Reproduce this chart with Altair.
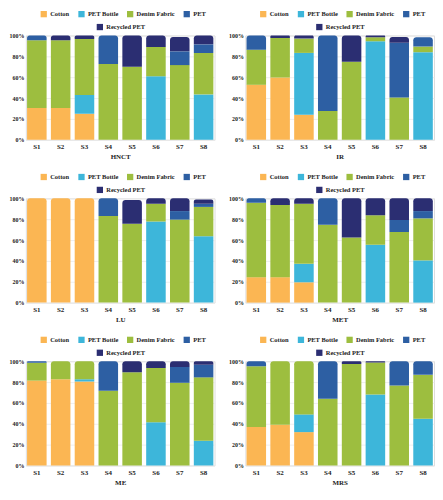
import altair as alt
import pandas as pd

SAMPLES = ["S1", "S2", "S3", "S4", "S5", "S6", "S7", "S8"]
MATERIALS = ["Cotton", "PET Bottle", "Denim Fabric", "PET", "Recycled PET"]
COLORS = ["#FBB653", "#3DB6DA", "#9DBE3F", "#2D5FA3", "#2B2E72"]
PANELS = ["HNCT", "IR", "LU", "MET", "ME", "MRS"]

# values in percent, per material, S1..S8
HNCT = {
    "Cotton":       [30.5, 30.5, 25.0, 0, 0, 0, 0, 0],
    "PET Bottle":   [0, 0, 18.0, 0, 0, 61.0, 0, 43.5],
    "Denim Fabric": [65.0, 65.0, 53.6, 72.6, 70.0, 28.0, 71.6, 39.7],
    "PET":          [4.5, 0, 0, 27.4, 0, 0, 13.2, 8.3],
    "Recycled PET": [0, 4.5, 3.4, 0, 30.0, 11.0, 13.7, 8.5],
}
IR = {
    "Cotton":       [52.7, 59.7, 24.0, 0, 0, 0, 0, 0],
    "PET Bottle":   [0, 0, 59.3, 0, 0, 94.5, 0, 84.0],
    "Denim Fabric": [33.7, 37.9, 13.7, 27.6, 74.8, 3.7, 40.6, 5.4],
    "PET":          [13.6, 0, 0, 72.4, 0, 0, 52.4, 9.0],
    "Recycled PET": [0, 2.4, 3.0, 0, 25.2, 1.8, 5.5, 0],
}
LU = {
    "Cotton":       [100.0, 100.0, 100.0, 0, 0, 0, 0, 0],
    "PET Bottle":   [0, 0, 0, 0, 0, 77.7, 0, 63.7],
    "Denim Fabric": [0, 0, 0, 83.0, 75.6, 17.1, 79.6, 28.1],
    "PET":          [0, 0, 0, 17.0, 0, 0, 8.2, 3.0],
    "Recycled PET": [0, 0, 0, 0, 22.9, 5.2, 12.2, 4.0],
}
MET = {
    "Cotton":       [24.4, 24.4, 19.5, 0, 0, 0, 0, 0],
    "PET Bottle":   [0, 0, 17.7, 0, 0, 55.5, 0, 40.5],
    "Denim Fabric": [71.3, 69.2, 57.6, 74.7, 62.5, 28.3, 67.7, 40.3],
    "PET":          [4.3, 0, 0, 25.3, 0, 0, 11.6, 7.0],
    "Recycled PET": [0, 6.4, 5.2, 0, 37.5, 16.2, 20.7, 12.2],
}
ME = {
    "Cotton":       [81.4, 82.6, 80.5, 0, 0, 0, 0, 0],
    "PET Bottle":   [0, 0, 2.1, 0, 0, 41.5, 0, 23.8],
    "Denim Fabric": [17.1, 17.4, 17.4, 71.6, 89.3, 52.1, 79.3, 60.7],
    "PET":          [1.5, 0, 0, 28.4, 0, 0, 15.2, 12.1],
    "Recycled PET": [0, 0, 0, 0, 10.7, 6.4, 5.5, 3.4],
}
MRS = {
    "Cotton":       [36.9, 39.0, 32.0, 0, 0, 0, 0, 0],
    "PET Bottle":   [0, 0, 17.0, 0, 0, 68.0, 0, 44.8],
    "Denim Fabric": [58.2, 61.0, 51.0, 64.0, 97.3, 30.8, 76.8, 42.1],
    "PET":          [4.9, 0, 0, 36.0, 0, 0, 23.2, 13.1],
    "Recycled PET": [0, 0, 0, 0, 2.7, 1.2, 0, 0],
}
PANEL_DATA = [HNCT, IR, LU, MET, ME, MRS]

FONT = "Liberation Serif"
PLOT_W = 190
PLOT_H = 105


def make_df(d):
    rows = []
    for i, s in enumerate(SAMPLES):
        present = [j for j, m in enumerate(MATERIALS) if d[m][i] > 0]
        top = max(present)
        for j in present:
            m = MATERIALS[j]
            rows.append({"Sample": s, "Material": m, "Order": j,
                         "Value": d[m][i], "Top": int(j == top)})
    return pd.DataFrame(rows)


def panel(name, d, width):
    df = make_df(d)
    base = alt.Chart(df).transform_stack(
        stack="Value", groupby=["Sample"],
        sort=[alt.SortField("Order", order="ascending")], as_=["y0", "y1"])
    x = alt.X("Sample:N", sort=SAMPLES,
              scale=alt.Scale(paddingInner=0.18, paddingOuter=0.05),
              axis=alt.Axis(title=name, labelAngle=0, ticks=False,
                            domain=False, labelFont=FONT, labelFontSize=7,
                            labelFontWeight="bold", labelColor="#222",
                            labelPadding=3, titleFont=FONT, titleFontSize=7,
                            titleFontWeight="bold", titleColor="#222",
                            titlePadding=3))
    y = alt.Y("y0:Q", scale=alt.Scale(domain=[0, 100], nice=False),
              axis=alt.Axis(title=None, values=[0, 20, 40, 60, 80, 100],
                            labelExpr="datum.value + '%'", ticks=False,
                            domain=False, grid=True, gridColor="#e9e9e9",
                            gridWidth=0.8, labelFont=FONT, labelFontSize=6,
                            labelFontWeight="bold", labelColor="#222",
                            labelPadding=2))
    color = alt.Color(
        "Material:N", scale=alt.Scale(domain=MATERIALS, range=COLORS),
        legend=alt.Legend(
            title=None, values=MATERIALS[:4], orient="none",
            direction="horizontal", legendX=(width - 161) / 2, legendY=-25,
            symbolType="square", symbolSize=40, symbolStrokeWidth=0,
            labelFont=FONT, labelFontSize=6.5, labelFontWeight="bold",
            labelColor="#222", labelOffset=3, columnPadding=8))
    lower = base.transform_filter("datum.Top == 0").mark_bar().encode(
        x=x, y=y, y2="y1:Q", color=color)
    upper = base.transform_filter("datum.Top == 1").mark_bar(
        cornerRadiusTopLeft=3, cornerRadiusTopRight=3).encode(
        x=x, y=y, y2="y1:Q", color=color)
    extra = alt.Chart(df).transform_filter("false").mark_bar().encode(
        fill=alt.Fill(
            "Material:N",
            scale=alt.Scale(domain=MATERIALS[4:], range=COLORS[4:]),
            legend=alt.Legend(
                title=None, orient="none", direction="horizontal",
                legendX=(width - 48) / 2, legendY=-12,
                symbolType="square", symbolSize=40, symbolStrokeWidth=0,
                labelFont=FONT, labelFontSize=6.5, labelFontWeight="bold",
                labelColor="#222", labelOffset=3)))
    return alt.layer(lower, upper, extra).properties(width=width,
                                                     height=PLOT_H)


charts = [panel(name, d, PLOT_W) for name, d in zip(PANELS, PANEL_DATA)]

chart = alt.concat(
    *charts, columns=2, spacing=alt.RowColnumber(row=12, column=12)
).resolve_scale(
    color="independent", fill="independent"
).resolve_legend(
    color="independent", fill="independent"
).properties(padding=0).configure_view(stroke=None).configure(background="white")

chart.save("out.html", embed_options={"renderer": "svg", "actions": False})
